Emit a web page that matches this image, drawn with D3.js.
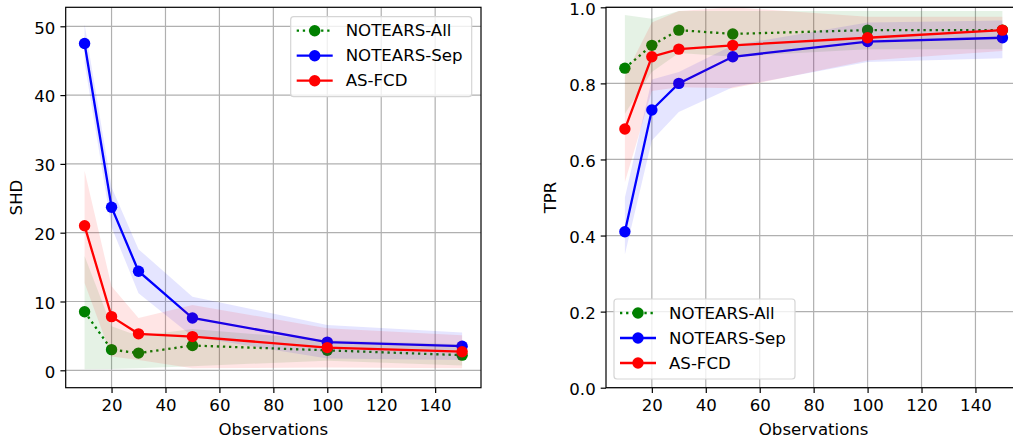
<!DOCTYPE html>
<html><head><meta charset="utf-8">
<script src="https://cdn.jsdelivr.net/npm/d3@7"></script>
<style>
html,body{margin:0;padding:0;background:#fff;}
svg{display:block;font-family:"DejaVu Sans",sans-serif;}
</style></head>
<body><svg id="c" width="1013" height="437"></svg>
<script>
const observations = [10, 20, 30, 50, 100, 150];
const seriesNames = ["NOTEARS-All", "NOTEARS-Sep", "AS-FCD"];
const seriesColors = ["green", "blue", "red"];

// SHD panel
const shdAllMean = [8.5, 3.0, 2.5, 3.6, 2.9, 2.2];
const shdAllLow  = [0.15, 0.2, 0.3, 0.6, 1.4, 0.7];
const shdAllHigh = [16.6, 6.4, 5.0, 6.0, 4.4, 3.8];
const shdSepMean = [47.5, 23.7, 14.4, 7.6, 4.1, 3.5];
const shdSepLow  = [44.7, 20.8, 11.2, 4.9, 1.7, 1.5];
const shdSepHigh = [50.3, 26.6, 17.6, 10.7, 6.6, 5.5];
const shdFcdMean = [21.0, 7.8, 5.3, 4.9, 3.3, 2.7];
const shdFcdLow  = [12.7, 2.0, 1.5, 0.3, 0.4, 0.3];
const shdFcdHigh = [29.0, 12.2, 7.6, 9.5, 6.1, 5.1];

// TPR panel
const tprAllMean = [0.84, 0.90, 0.94, 0.93, 0.94, 0.94];
const tprAllLow  = [0.72, 0.83, 0.88, 0.87, 0.89, 0.89];
const tprAllHigh = [0.98, 0.97, 0.99, 0.99, 0.99, 0.99];
const tprSepMean = [0.41, 0.73, 0.80, 0.87, 0.91, 0.92];
const tprSepLow  = [0.35, 0.65, 0.725, 0.79, 0.856, 0.866];
const tprSepHigh = [0.50, 0.81, 0.83, 0.90, 0.96, 0.965];
const tprFcdMean = [0.68, 0.87, 0.89, 0.90, 0.92, 0.94];
const tprFcdLow  = [0.54, 0.78, 0.79, 0.787, 0.86, 0.885];
const tprFcdHigh = [0.82, 0.96, 0.99, 1.0, 0.975, 0.975];

const shdTicks = [0, 10, 20, 30, 40, 50];
const tprTicks = [0, 0.2, 0.4, 0.6, 0.8, 1.0];
const xTicks = [20, 40, 60, 80, 100, 120, 140];

const svg = d3.select("#c");
const FS = 16.6;

function panel(opt) {
  const x = d3.scaleLinear().domain([3, 157]).range([opt.x0, opt.x1]);
  const y = d3.scaleLinear().domain(opt.yDomain).range([387.7, 7.3]);
  const g = svg.append("g");
  const clipId = "clip" + opt.id;
  svg.append("clipPath").attr("id", clipId).append("rect")
    .attr("x", opt.x0).attr("y", 7.3).attr("width", opt.x1 - opt.x0).attr("height", 380.4);

  // grid
  g.append("g").selectAll("line").data(xTicks).join("line")
    .attr("x1", d => x(d)).attr("x2", d => x(d)).attr("y1", 7.3).attr("y2", 387.7)
    .attr("stroke", "#b0b0b0").attr("stroke-width", 1.2);
  g.append("g").selectAll("line").data(opt.yTicks).join("line")
    .attr("y1", d => y(d)).attr("y2", d => y(d)).attr("x1", opt.x0).attr("x2", opt.x1)
    .attr("stroke", "#b0b0b0").attr("stroke-width", 1.2);

  const plot = g.append("g").attr("clip-path", `url(#${clipId})`);
  opt.series.forEach((s, i) => {
    const pts = observations.map((o, j) => ({x: o, m: s.mean[j], lo: s.low[j], hi: s.high[j]}));
    plot.append("path").datum(pts)
      .attr("d", d3.line().x(d => x(d.x)).y(d => y(d.m)))
      .attr("fill", "none").attr("stroke", seriesColors[i]).attr("stroke-width", 2.3)
      .attr("stroke-dasharray", i === 0 ? "2.3,3.8" : null);
    plot.append("g").selectAll("circle").data(pts).join("circle")
      .attr("cx", d => x(d.x)).attr("cy", d => y(d.m)).attr("r", 5.7)
      .attr("fill", seriesColors[i]);
    plot.append("path").datum(pts)
      .attr("d", d3.area().x(d => x(d.x)).y0(d => y(d.lo)).y1(d => y(d.hi)))
      .attr("fill", seriesColors[i]).attr("fill-opacity", 0.1);
  });

  // axes
  const xa = g.append("g").attr("transform", "translate(0,387.7)")
    .call(d3.axisBottom(x).tickValues(xTicks).tickSize(5.3).tickPadding(6.5).tickFormat(d3.format("d")));
  const ya = g.append("g").attr("transform", `translate(${opt.x0},0)`)
    .call(d3.axisLeft(y).tickValues(opt.yTicks).tickSize(5.3).tickPadding(5).tickFormat(opt.fmt));
  [xa, ya].forEach(a => {
    a.select(".domain").remove();
    a.selectAll("line").attr("stroke", "#000").attr("stroke-width", 1.2);
    a.selectAll("text").attr("font-size", FS).attr("fill", "#000").attr("font-family", "DejaVu Sans");
  });
  ya.selectAll("text").attr("dy", "0.41em");
  g.append("rect").attr("x", opt.x0).attr("y", 7.3).attr("width", opt.x1 - opt.x0).attr("height", 380.4)
    .attr("fill", "none").attr("stroke", "#000").attr("stroke-width", 1.2);

  g.append("text").attr("x", (opt.x0 + opt.x1) / 2).attr("y", 434.5).attr("text-anchor", "middle")
    .attr("font-size", FS).text("Observations");
  g.append("text").attr("transform", `translate(${opt.ylabX},197.5) rotate(-90)`)
    .attr("text-anchor", "middle").attr("dominant-baseline", "central")
    .attr("font-size", FS).text(opt.ylab);

  // legend
  const L = opt.legend;
  const lg = g.append("g");
  lg.append("rect").attr("x", L.x).attr("y", L.y).attr("width", 181).attr("height", 80)
    .attr("rx", 3).attr("fill", "#fff").attr("fill-opacity", 0.8)
    .attr("stroke", "#d5d5d5").attr("stroke-width", 1.2);
  seriesNames.forEach((n, i) => {
    const ry = L.y + 14 + i * 25;
    lg.append("line").attr("x1", L.x + 6).attr("x2", L.x + 42).attr("y1", ry).attr("y2", ry)
      .attr("stroke", seriesColors[i]).attr("stroke-width", 2.3)
      .attr("stroke-dasharray", i === 0 ? "2.3,3.8" : null);
    lg.append("circle").attr("cx", L.x + 24).attr("cy", ry).attr("r", 5.7).attr("fill", seriesColors[i]);
    lg.append("text").attr("x", L.x + 55).attr("y", ry).attr("dominant-baseline", "central")
      .attr("font-size", FS).text(n);
  });
}

panel({
  id: "a", x0: 65.7, x1: 481, yDomain: [-2.53, 52.76], yTicks: shdTicks, fmt: d3.format("d"),
  ylab: "SHD", ylabX: 16,
  legend: {x: 290.7, y: 16.7},
  series: [
    {mean: shdAllMean, low: shdAllLow, high: shdAllHigh},
    {mean: shdSepMean, low: shdSepLow, high: shdSepHigh},
    {mean: shdFcdMean, low: shdFcdLow, high: shdFcdHigh}
  ]
});
panel({
  id: "b", x0: 606, x1: 1021.3, yDomain: [0, 1], yTicks: tprTicks, fmt: d3.format(".1f"),
  ylab: "TPR", ylabX: 550.7,
  legend: {x: 614, y: 299},
  series: [
    {mean: tprAllMean, low: tprAllLow, high: tprAllHigh},
    {mean: tprSepMean, low: tprSepLow, high: tprSepHigh},
    {mean: tprFcdMean, low: tprFcdLow, high: tprFcdHigh}
  ]
});
</script></body></html>
